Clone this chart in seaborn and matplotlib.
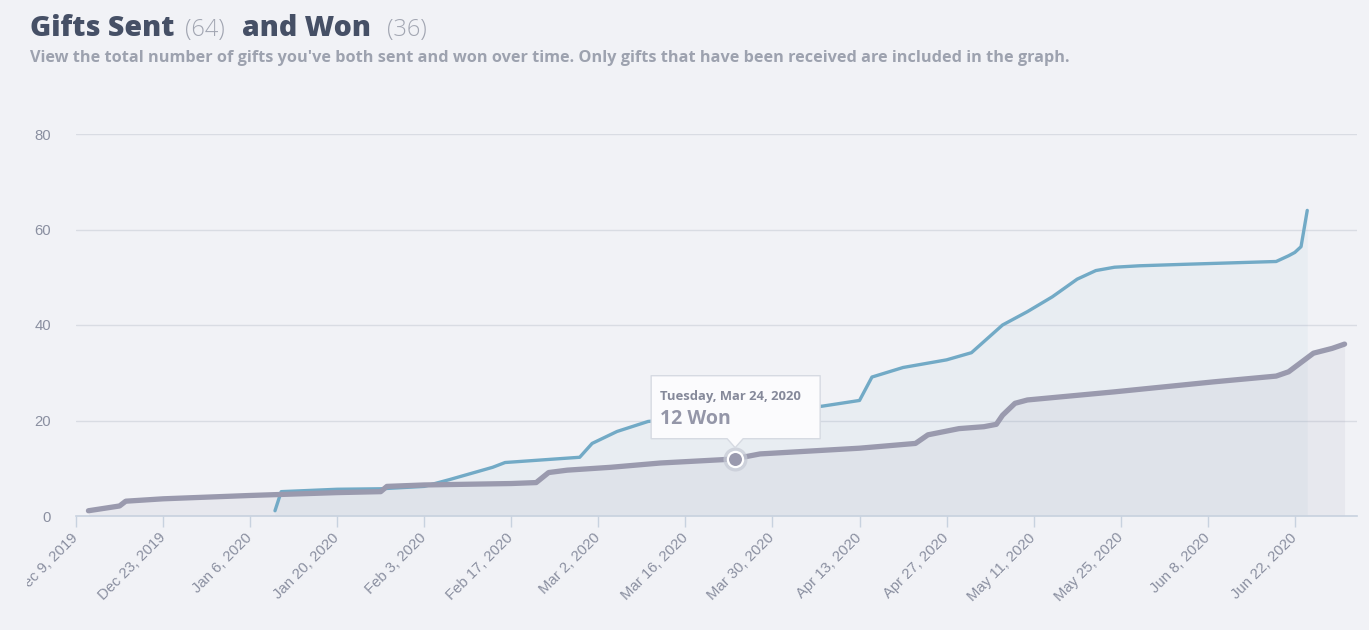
import matplotlib
matplotlib.use("Agg")
import matplotlib.pyplot as plt
from matplotlib.patches import Polygon
from matplotlib.transforms import IdentityTransform, Bbox
import matplotlib.dates as mdates
import pandas as pd
import seaborn as sns

# ---------------- data ----------------
won_dates = ["2019-12-11", "2019-12-16", "2019-12-17", "2019-12-23", "2020-01-06",
             "2020-01-20", "2020-01-27", "2020-01-28", "2020-02-03", "2020-02-17",
             "2020-02-21", "2020-02-23", "2020-02-26", "2020-03-04", "2020-03-12",
             "2020-03-22", "2020-03-24", "2020-03-28", "2020-04-13", "2020-04-22",
             "2020-04-24", "2020-04-29", "2020-05-03", "2020-05-05", "2020-05-06",
             "2020-05-08", "2020-05-10", "2020-05-24", "2020-06-09", "2020-06-19",
             "2020-06-21", "2020-06-25", "2020-06-28", "2020-06-30"]
won_values = [1.1, 2.1, 3.1, 3.6, 4.3,
              4.9, 5.1, 6.2, 6.5, 6.8,
              7.0, 9.1, 9.6, 10.2, 11.1,
              11.8, 12.0, 13.0, 14.2, 15.2,
              17.0, 18.3, 18.7, 19.2, 21.1,
              23.6, 24.3, 26.0, 28.1, 29.3,
              30.2, 34.1, 35.1, 36.0]

sent_dates = ["2020-01-10", "2020-01-11", "2020-01-20", "2020-01-27", "2020-02-03",
              "2020-02-07", "2020-02-14", "2020-02-16", "2020-02-28", "2020-03-01",
              "2020-03-05", "2020-03-10", "2020-04-07", "2020-04-13", "2020-04-15",
              "2020-04-20", "2020-04-27", "2020-05-01", "2020-05-06", "2020-05-10",
              "2020-05-14", "2020-05-18", "2020-05-21", "2020-05-24", "2020-05-28",
              "2020-06-04", "2020-06-19", "2020-06-21", "2020-06-22", "2020-06-23",
              "2020-06-24"]
sent_values = [1.1, 5.1, 5.6, 5.7, 6.2,
               7.6, 10.2, 11.2, 12.3, 15.2,
               17.7, 19.8, 23.0, 24.2, 29.1,
               31.1, 32.7, 34.2, 40.0, 42.8,
               45.9, 49.6, 51.4, 52.1, 52.4,
               52.7, 53.3, 54.5, 55.2, 56.4,
               64.0]

tick_dates = ["2019-12-09", "2019-12-23", "2020-01-06", "2020-01-20", "2020-02-03",
              "2020-02-17", "2020-03-02", "2020-03-16", "2020-03-30", "2020-04-13",
              "2020-04-27", "2020-05-11", "2020-05-25", "2020-06-08", "2020-06-22"]
tick_labels = ["Dec 9, 2019", "Dec 23, 2019", "Jan 6, 2020", "Jan 20, 2020", "Feb 3, 2020",
               "Feb 17, 2020", "Mar 2, 2020", "Mar 16, 2020", "Mar 30, 2020", "Apr 13, 2020",
               "Apr 27, 2020", "May 11, 2020", "May 25, 2020", "Jun 8, 2020", "Jun 22, 2020"]
y_ticks = [0, 20, 40, 60, 80]

total_sent = 64
total_won = 36
tooltip_date = "2020-03-24"
tooltip_title = "Tuesday, Mar 24, 2020"

# ---------------- style ----------------
BG = "#f1f2f6"
SENT = "#72aac6"
WON = "#9a9aae"
GRID = "#d9dce3"
AXIS = "#c8d2df"
TICKTXT = "#8a8fa0"

sns.set_theme(style="white")
plt.rcParams["font.family"] = ["Liberation Sans", "DejaVu Sans"]

W, H = 1369, 630
fig = plt.figure(figsize=(W / 100, H / 100), dpi=100, facecolor=BG)
ax = fig.add_axes([76 / W, 1 - 516 / H, (1357 - 76) / W, (516 - 134) / H])
ax.set_facecolor(BG)

won = pd.DataFrame({"date": pd.to_datetime(won_dates), "count": won_values})
sent = pd.DataFrame({"date": pd.to_datetime(sent_dates), "count": sent_values})

ax.fill_between(sent["date"], sent["count"], 0, color="#7fb0c8", alpha=0.07, lw=0, zorder=1)
ax.fill_between(won["date"], won["count"], 0, color=WON, alpha=0.11, lw=0, zorder=1.1)
sns.lineplot(data=sent, x="date", y="count", color=SENT, lw=2.4, ax=ax, zorder=3,
             solid_capstyle="round", solid_joinstyle="round")
sns.lineplot(data=won, x="date", y="count", color=WON, lw=3.8, ax=ax, zorder=4,
             solid_capstyle="round", solid_joinstyle="round")

ax.set_xlim(pd.Timestamp("2019-12-09"), pd.Timestamp("2020-07-02"))
ax.set_ylim(0, 80)
ax.set_xlabel("")
ax.set_ylabel("")

ax.set_xticks(pd.to_datetime(tick_dates))
ax.set_xticklabels(tick_labels, rotation=45, ha="right", va="center",
                   rotation_mode="anchor")
ax.set_yticks(y_ticks)
ax.set_yticklabels([str(v) for v in y_ticks])
ax.tick_params(axis="x", length=8, width=1, color=AXIS, pad=6,
               labelsize=10.7, labelcolor=TICKTXT, bottom=True)
ax.tick_params(axis="y", length=0, pad=18, labelsize=10.7, labelcolor=TICKTXT)

# the chart container clips the left end of the first date label
clip = Bbox.from_extents(27, 0, W, H)
for lab in ax.get_xticklabels():
    lab.set_clip_box(clip)
    lab.set_clip_on(True)

ax.yaxis.grid(True, color=GRID, lw=1)
ax.xaxis.grid(False)
ax.set_axisbelow(True)
for s in ["top", "right", "left"]:
    ax.spines[s].set_visible(False)
ax.spines["bottom"].set_color(AXIS)
ax.spines["bottom"].set_linewidth(1.2)
ax.spines["bottom"].set_zorder(5)

# ---------------- tooltip ----------------
tip_idx = won_dates.index(tooltip_date)
tip_val = won_values[tip_idx]
tx = mdates.date2num(pd.Timestamp(tooltip_date))
ax.scatter([pd.Timestamp(tooltip_date)], [tip_val], s=300, color="#c6cad5",
           alpha=0.7, lw=0, zorder=6, clip_on=False)
ax.scatter([pd.Timestamp(tooltip_date)], [tip_val], s=120, color=WON,
           edgecolor="white", lw=1.6, zorder=7, clip_on=False)

fig.canvas.draw()
px, py = ax.transData.transform((tx, tip_val))
L, R, B, T = px - 84, px + 85, py + 20, py + 83
verts = [(L, B), (px - 8, B), (px, py + 11), (px + 8, B), (R, B), (R, T), (L, T)]
tip = Polygon(verts, closed=True, transform=IdentityTransform(), facecolor="#fbfbfd",
              edgecolor="#d6dae2", lw=1, zorder=20, joinstyle="round")
fig.add_artist(tip)
fig.text(px - 75, py + 59, tooltip_title, transform=IdentityTransform(),
         family=["Open Sans", "DejaVu Sans"], fontweight="bold", fontsize=9.4,
         color="#85899a", va="baseline", ha="left", zorder=21)
fig.text(px - 75, py + 35, f"{int(round(tip_val))} Won", transform=IdentityTransform(),
         family=["Open Sans", "DejaVu Sans"], fontweight="bold", fontsize=14,
         color="#9496a8", va="baseline", ha="left", zorder=21)

# ---------------- titles ----------------
TITLE = "#465066"
COUNT = "#a2a6b2"
fam = ["Open Sans", "DejaVu Sans"]
fig.text(30 / W, 1 - 36 / H, "Gifts Sent", family=fam, fontweight="heavy", fontsize=20.5,
         color=TITLE, va="baseline")
fig.text(185 / W, 1 - 36 / H, f"({total_sent})", family=fam, fontweight="light",
         fontsize=17, color=COUNT, va="baseline")
fig.text(242 / W, 1 - 36 / H, "and Won", family=fam, fontweight="heavy", fontsize=20.5,
         color=TITLE, va="baseline")
fig.text(387 / W, 1 - 36 / H, f"({total_won})", family=fam, fontweight="light",
         fontsize=17, color=COUNT, va="baseline")
fig.text(30 / W, 1 - 62 / H,
         "View the total number of gifts you've both sent and won over time. "
         "Only gifts that have been received are included in the graph.",
         family=fam, fontweight="bold", fontsize=11.7, color="#9da2af", va="baseline")

fig.savefig("out.png", dpi=100, facecolor=BG)
